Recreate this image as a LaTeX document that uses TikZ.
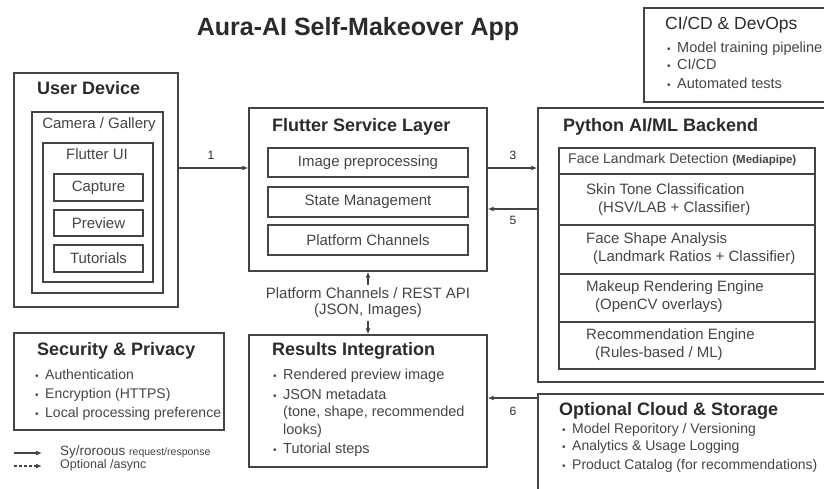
\documentclass[tikz,border=0pt]{standalone}
\usepackage{fontspec}
\setmainfont{Liberation Sans}
\usetikzlibrary{arrows.meta}
\definecolor{ln}{HTML}{444444}
\definecolor{tt}{HTML}{2B2B2B}
\definecolor{bd}{HTML}{454545}
\newcommand{\fsz}[1]{\fontsize{#1}{#1}\selectfont}
\newcommand{\bl}{\makebox[10pt][l]{\raisebox{0.5pt}{\fsz{10}\textbullet}}}
\begin{document}
\begin{tikzpicture}[x=1pt,y=-1pt,
 box/.style={draw=ln, line width=1.3pt, inner sep=0pt, rectangle},
 ibox/.style={box, font=\fsz{15}, text=bd},
 ttl/.style={inner sep=0pt, anchor=mid west, text=tt, font=\fsz{18}\bfseries},
 txt/.style={inner sep=0pt, anchor=mid west, text=bd, font=\fsz{15}},
 ctxt/.style={inner sep=0pt, anchor=mid, text=bd, font=\fsz{15}},
 bul/.style={inner sep=0pt, anchor=mid west, text=bd, font=\fsz{14.5}},
 num/.style={inner sep=0pt, anchor=mid, text=tt, font=\fsz{12}},
 arr/.style={draw=ln, line width=1.2pt, -{Latex[length=6pt,width=5pt]}},
]
\useasboundingbox[fill=white] (0,0) rectangle (824,488);

% title
\node[inner sep=0pt, text=tt, font=\fsz{25}\bfseries] (title) at (358,29) {Aura-AI Self-Makeover App};

% user device
\node[box, minimum width=164pt, minimum height=234pt] (ud) at (96,190) {};
\node[ttl] (udt) at (37,92) {User Device};
\node[box, minimum width=131pt, minimum height=181pt] (cam) at (97.5,202.5) {};
\node[ctxt] (camt) at (99,126) {Camera / Gallery};
\node[box, minimum width=110pt, minimum height=139pt] (fui) at (98,212.5) {};
\node[ctxt] (fuit) at (97,157) {Flutter UI};
\node[ibox, minimum width=89pt, minimum height=27pt] (cap) at (98.5,187.5) {Capture};
\node[ibox, minimum width=89pt, minimum height=26pt] (prev) at (98.5,223) {Preview};
\node[ibox, minimum width=89pt, minimum height=27pt] (tut) at (98.5,258.5) {Tutorials};

% flutter service layer
\node[box, minimum width=238pt, minimum height=163pt] (fsl) at (368,189.5) {};
\node[ttl] (fslt) at (272,129) {Flutter Service Layer};
\node[ibox, minimum width=200pt, minimum height=29pt] (imgp) at (368,162.5) {Image preprocessing};
\node[ibox, minimum width=200pt, minimum height=30pt] (stm) at (368,202) {State Management};
\node[ibox, minimum width=200pt, minimum height=30pt] (plc) at (368,240) {Platform Channels};

% python backend
\node[box, minimum width=302pt, minimum height=274pt] (py) at (689,245) {};
\node[ttl] (pyt) at (563,129) {Python AI/ML Backend};
\node[box, minimum width=256pt, minimum height=26pt] (r1) at (687,161) {};
\node[box, minimum width=256pt, minimum height=51pt] (r2) at (687,199.5) {};
\node[box, minimum width=256pt, minimum height=49pt] (r3) at (687,249.5) {};
\node[box, minimum width=256pt, minimum height=48pt] (r4) at (687,298) {};
\node[box, minimum width=256pt, minimum height=47pt] (r5) at (687,345.5) {};
\node[txt, font=\fsz{14}] (r1t) at (568,161) {Face Landmark Detection {\fsz{11.5}\bfseries(Mediapipe)}};
\node[txt] (r2a) at (586,192) {Skin Tone Classification};
\node[txt] (r2b) at (598,210) {(HSV/LAB + Classifier)};
\node[txt] (r3a) at (586,241) {Face Shape Analysis};
\node[txt] (r3b) at (593,259) {(Landmark Ratios + Classifier)};
\node[txt] (r4a) at (586,289) {Makeup Rendering Engine};
\node[txt] (r4b) at (595,307) {(OpenCV overlays)};
\node[txt] (r5a) at (586,337) {Recommendation Engine};
\node[txt] (r5b) at (595,355) {(Rules-based / ML)};

% CI/CD
\node[box, minimum width=210pt, minimum height=94pt] (cicd) at (749,55) {};
\node[txt, font=\fsz{17.5}, text=tt] (cit) at (665,27) {CI/CD \& DevOps};
\node[bul, font=\fsz{14.5}] (ci1) at (667,50) {\bl Model training pipeline};
\node[bul, font=\fsz{14.5}] (ci2) at (667,67) {\bl CI/CD};
\node[bul, font=\fsz{14.5}] (ci3) at (667,86) {\bl Automated tests};

% security
\node[box, minimum width=210pt, minimum height=97pt] (sec) at (119,381.5) {};
\node[ttl] (sect) at (37,353) {Security \& Privacy};
\node[bul, font=\fsz{14}] (s1) at (35,377) {\bl Authentication};
\node[bul, font=\fsz{14}] (s2) at (35,396) {\bl Encryption (HTTPS)};
\node[bul, font=\fsz{14}] (s3) at (35,415) {\bl Local processing preference};

% results integration
\node[box, minimum width=238pt, minimum height=132pt] (res) at (368,401) {};
\node[ttl] (rest) at (272,353) {Results Integration};
\node[bul] (b1) at (273,377) {\bl Rendered preview image};
\node[bul] (b2) at (273,397) {\bl JSON metadata};
\node[bul] (b2b) at (283,414) {(tone, shape, recommended};
\node[bul] (b2c) at (283,432) {looks)};
\node[bul] (b3) at (273,451) {\bl Tutorial steps};

% cloud
\node[box, minimum width=306pt, minimum height=110pt] (cloud) at (691,449) {};
\node[ttl] (clt) at (559,413) {Optional Cloud \& Storage};
\node[bul, font=\fsz{14}] (c1) at (562,431) {\bl Model Reporitory / Versioning};
\node[bul, font=\fsz{14}] (c2) at (562,448) {\bl Analytics \& Usage Logging};
\node[bul, font=\fsz{14}] (c3) at (562,467) {\bl Product Catalog (for recommendations)};

% connectors
\coordinate (y1) at (0,168);
\coordinate (y5) at (0,209);
\coordinate (y6) at (0,398);
\draw[arr] (ud.east |- y1) -- (fsl.west |- y1);
\node[num] (n1) at (211,157) {1};
\draw[arr] (fsl.east |- y1) -- (py.west |- y1);
\node[num] (n3) at (513,157) {3};
\draw[arr] (py.west |- y5) -- (fsl.east |- y5);
\node[num] (n5) at (513,222) {5};
\draw[arr] (cloud.west |- y6) -- (res.east |- y6);
\node[num] (n6) at (513,413) {6};
\draw[draw=ln, line width=1.2pt, {Latex[length=6pt,width=5pt]}-{Latex[length=6pt,width=5pt]}] (fsl.south) -- (res.north);
\path (fsl.south) -- (res.north) node[midway, fill=white, inner sep=3pt, align=center, text=bd, font=\fsz{15}] (pcl) {Platform Channels / REST API\\[1pt](JSON, Images)};

% legend
\coordinate (l1a) at (14,453);
\coordinate (l1b) at (42,453);
\coordinate (l2a) at (14,466);
\coordinate (l2b) at (42,466);
\draw[arr] (l1a) -- (l1b);
\draw[arr, dashed, dash pattern=on 3pt off 2pt] (l2a) -- (l2b);
\node[txt, font=\fsz{13.5}] (lg1) at (60,453) {Sy/roroous {\fsz{10.5}request/response}};
\node[txt, font=\fsz{12.5}] (lg2) at (60,466) {Optional /async};
\end{tikzpicture}
\end{document}
